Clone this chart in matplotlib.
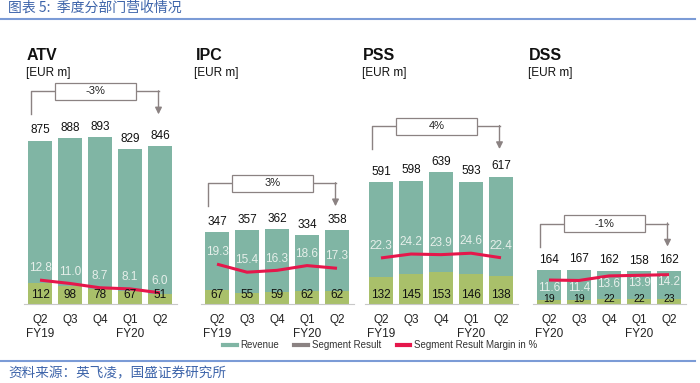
import matplotlib
matplotlib.use('Agg')
from matplotlib import pyplot as plt
from matplotlib.lines import Line2D
from matplotlib.patches import Rectangle

plt.rcParams['font.family'] = ['Liberation Sans', 'Noto Sans CJK SC', 'DejaVu Sans']

# quarterly data per segment [EUR m], margin in %
quarters = ['Q2\nFY19', 'Q3', 'Q4', 'Q1\nFY20', 'Q2']
quarters_dss = ['Q2\nFY20', 'Q3', 'Q4', 'Q1\nFY20', 'Q2']

atv_rev = [875, 888, 893, 829, 846]
atv_seg = [112, 98, 78, 67, 51]
atv_margin = [12.8, 11.0, 8.7, 8.1, 6.0]

ipc_rev = [347, 357, 362, 334, 358]
ipc_seg = [67, 55, 59, 62, 62]
ipc_margin = [19.3, 15.4, 16.3, 18.6, 17.3]

pss_rev = [591, 598, 639, 593, 617]
pss_seg = [132, 145, 153, 146, 138]
pss_margin = [22.3, 24.2, 23.9, 24.6, 22.4]

dss_rev = [164, 167, 162, 158, 162]
dss_seg = [19, 19, 22, 22, 23]
dss_margin = [11.6, 11.4, 13.6, 13.9, 14.2]

growth = ['-3%', '3%', '4%', '-1%']
names = ['ATV', 'IPC', 'PSS', 'DSS']

TEAL = '#80b5a4'
OLIVE = '#a9c06a'
RED = '#e5174b'
GREY = '#8b8282'
BLUE = '#3d64aa'

W, H = 700, 383
fig = plt.figure(figsize=(7, 3.83), dpi=100)

panels = [
    (atv_rev, atv_seg, atv_margin, quarters, 23.5, 0.1866, 27, False),
    (ipc_rev, ipc_seg, ipc_margin, quarters, 200.5, 0.2065, 196, False),
    (pss_rev, pss_seg, pss_margin, quarters, 364.5, 0.2065, 363, False),
    (dss_rev, dss_seg, dss_margin, quarters_dss, 532.5, 0.2065, 529, True),
]

base_px, top_px = 304, 80
for k, (rev, seg, mar, labels, left, scale, tx, small) in enumerate(panels):
    ax = fig.add_axes([left / W, 1 - base_px / H, 153 / W, (base_px - top_px) / H])
    ymax = (base_px - top_px) / scale
    x = range(len(rev))
    ax.bar(x, rev, width=0.77, color=TEAL, zorder=1)
    ax.bar(x, seg, width=0.77, color=OLIVE, zorder=2)
    ax.plot(x, [m * 10 for m in mar], color=RED, lw=2.2, zorder=3, solid_capstyle='butt')
    ax.set_xlim(-0.55, 4.55)
    ax.set_ylim(0, ymax)
    for sp in ['top', 'right', 'left']:
        ax.spines[sp].set_visible(False)
    ax.spines['bottom'].set_color('#c8c8c8')
    ax.spines['bottom'].set_linewidth(0.8)
    ax.set_yticks([])
    ax.set_xticks(list(x))
    ax.set_xticklabels(labels, fontsize=8.5, color='#222222', linespacing=1.25)
    ax.tick_params(axis='x', length=0, pad=7)

    for i in x:
        ax.annotate(str(rev[i]), (i, rev[i]), xytext=(0, 7.5), textcoords='offset points',
                    ha='center', va='center', fontsize=8.5, color='#111111')
        ax.annotate(str(seg[i]), (i, 0), xytext=(0, 3.3 if small else 6.5),
                    textcoords='offset points', ha='center', va='center',
                    fontsize=7.5 if small else 8.5, color='#111111', zorder=5)
        ax.annotate(f'{mar[i]:.1f}', (i, mar[i] * 10), xytext=(0, -5.5 if small else 8.5),
                    textcoords='offset points', ha='center', va='center',
                    fontsize=8.5, color='#e6efea', zorder=4)

    # growth bracket
    top = max(rev)
    y_hi = top + 46 / scale
    y_lo = top + 23 / scale
    xl, xr, xc, bw = -0.3, 3.95, 1.85, 2.7
    bh = 17 / scale
    ax.plot([xl, xl, xc - bw / 2], [y_lo, y_hi, y_hi], color=GREY, lw=1.0, clip_on=False)
    ax.plot([xc + bw / 2, xr], [y_hi, y_hi], color=GREY, lw=1.0, clip_on=False)
    ax.annotate('', xy=(xr, y_lo), xytext=(xr, y_hi + 0.5 / scale),
                arrowprops=dict(arrowstyle='-|>', color=GREY, lw=1.0, mutation_scale=10,
                                shrinkA=0, shrinkB=0), annotation_clip=False)
    ax.add_patch(Rectangle((xc - bw / 2, y_hi - bh / 2), bw, bh, facecolor='white',
                           edgecolor=GREY, lw=0.9, clip_on=False, zorder=4))
    ax.text(xc, y_hi, growth[k], ha='center', va='center', fontsize=8, color='#222222', zorder=5)

    fig.text(tx / W, 1 - 56 / H, names[k], fontsize=11.5, fontweight='bold',
             ha='left', va='center', color='#111111')
    fig.text((tx - 1.5) / W, 1 - 73 / H, '[EUR m]', fontsize=8.5,
             ha='left', va='center', color='#111111')

handles = [Line2D([], [], color=TEAL, lw=3),
           Line2D([], [], color=GREY, lw=3),
           Line2D([], [], color=RED, lw=3)]
fig.legend(handles, ['Revenue', 'Segment Result', 'Segment Result Margin in %'],
           loc='center', bbox_to_anchor=(380 / W, 1 - 345 / H), ncol=3, frameon=False,
           fontsize=7, handlelength=1.43, handletextpad=0.35, columnspacing=1.6,
           labelcolor='#333333')

# header and footer
fig.text(8 / W, 1 - 8 / H, '图表 5:  季度分部门营收情况', family=['Noto Sans CJK SC'],
         fontsize=10, color=BLUE, style='italic', ha='left', va='center')
fig.add_artist(Line2D([0, 695 / W], [1 - 19 / H, 1 - 19 / H], color='#7b9bd6', lw=1.5))
fig.add_artist(Line2D([0, 695 / W], [1 - 361 / H, 1 - 361 / H], color='#7b9bd6', lw=1.5))
fig.text(8 / W, 1 - 373 / H, '资料来源：英飞凌，国盛证券研究所', family=['Noto Sans CJK SC'],
         fontsize=9.8, color=BLUE, style='italic', ha='left', va='center')

fig.savefig('out.png', dpi=100)
